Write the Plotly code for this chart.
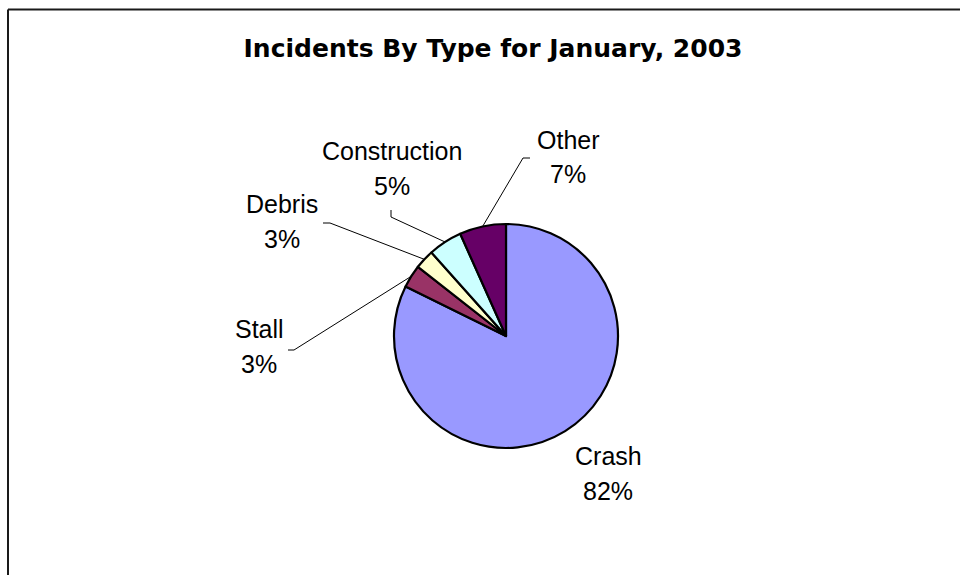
import math
import plotly.graph_objects as go

# ---- data ----
categories = ["Crash", "Stall", "Debris", "Construction", "Other"]
values = [82.3, 3.3, 2.8, 4.9, 6.7]
colors = ["#9999FF", "#993366", "#FFFFCC", "#CCFFFF", "#660066"]
title_text = "Incidents By Type for January, 2003"

# ---- layout (pixels) ----
W, H = 960, 575
CX, CY, R = 506, 336, 112
# label line centres: (x, y_name, y_pct)
label_pos = {
    "Crash": (608, 456, 491),
    "Stall": (259, 329, 364),
    "Debris": (282, 204, 239),
    "Construction": (392, 151, 186),
    "Other": (568, 140, 174),
}
# leader line elbows: (elbow_x, elbow_y, end_x)
leader_pos = {
    "Stall": (294, 350, 288),
    "Debris": (330, 223, 323),
    "Construction": (391, 217, 391),
    "Other": (523, 158, 530),
}
leader_end_y = {"Construction": 210}


def px(x):
    return x / W


def py(y):
    return 1 - y / H


fig = go.Figure(
    go.Pie(
        labels=categories,
        values=values,
        sort=False,
        direction="clockwise",
        rotation=0,
        marker=dict(colors=colors, line=dict(color="black", width=2.2)),
        textinfo="none",
        hoverinfo="label+percent",
        domain=dict(x=[px(CX - R), px(CX + R)], y=[py(CY + R), py(CY - R)]),
        showlegend=False,
    )
)

total = sum(values)
annotations = []
shapes = []
font_lbl = dict(family="Liberation Sans, Arial, sans-serif", size=25, color="black")
cum = 0.0
for cat, v in zip(categories, values):
    mid = (cum + v / 2) / total * 2 * math.pi
    cum += v
    pct = round(v / total * 100)
    lx, ly1, ly2 = label_pos[cat]
    annotations.append(dict(x=px(lx), y=py(ly1), xref="paper", yref="paper",
                            text=cat, showarrow=False, font=font_lbl,
                            xanchor="center", yanchor="middle"))
    annotations.append(dict(x=px(lx), y=py(ly2), xref="paper", yref="paper",
                            text=f"{pct}%", showarrow=False, font=font_lbl,
                            xanchor="center", yanchor="middle"))
    if cat in leader_pos:
        ax = CX + R * math.sin(mid)
        ay = CY - R * math.cos(mid)
        ex, ey, endx = leader_pos[cat]
        endy = leader_end_y.get(cat, ey)
        path = f"M {px(ax)},{py(ay)} L {px(ex)},{py(ey)} L {px(endx)},{py(endy)}"
        shapes.append(dict(type="path", xref="paper", yref="paper", path=path,
                           line=dict(color="black", width=1)))

# chart border (top and left edges visible)
shapes.append(dict(type="line", xref="paper", yref="paper",
                   x0=px(8), y0=py(9.5), x1=1, y1=py(9.5),
                   line=dict(color="#1a1a1a", width=2)))
shapes.append(dict(type="line", xref="paper", yref="paper",
                   x0=px(8), y0=py(9.5), x1=px(8), y1=0,
                   line=dict(color="#1a1a1a", width=2)))

fig.update_layout(
    width=W, height=H,
    margin=dict(l=0, r=0, t=0, b=0),
    paper_bgcolor="white",
    plot_bgcolor="white",
    title=dict(text=f"<b>{title_text}</b>", x=px(493), y=py(48),
               xanchor="center", yanchor="middle",
               font=dict(family="DejaVu Sans", size=25, color="black")),
    annotations=annotations,
    shapes=shapes,
)

fig.write_html("out.html")
